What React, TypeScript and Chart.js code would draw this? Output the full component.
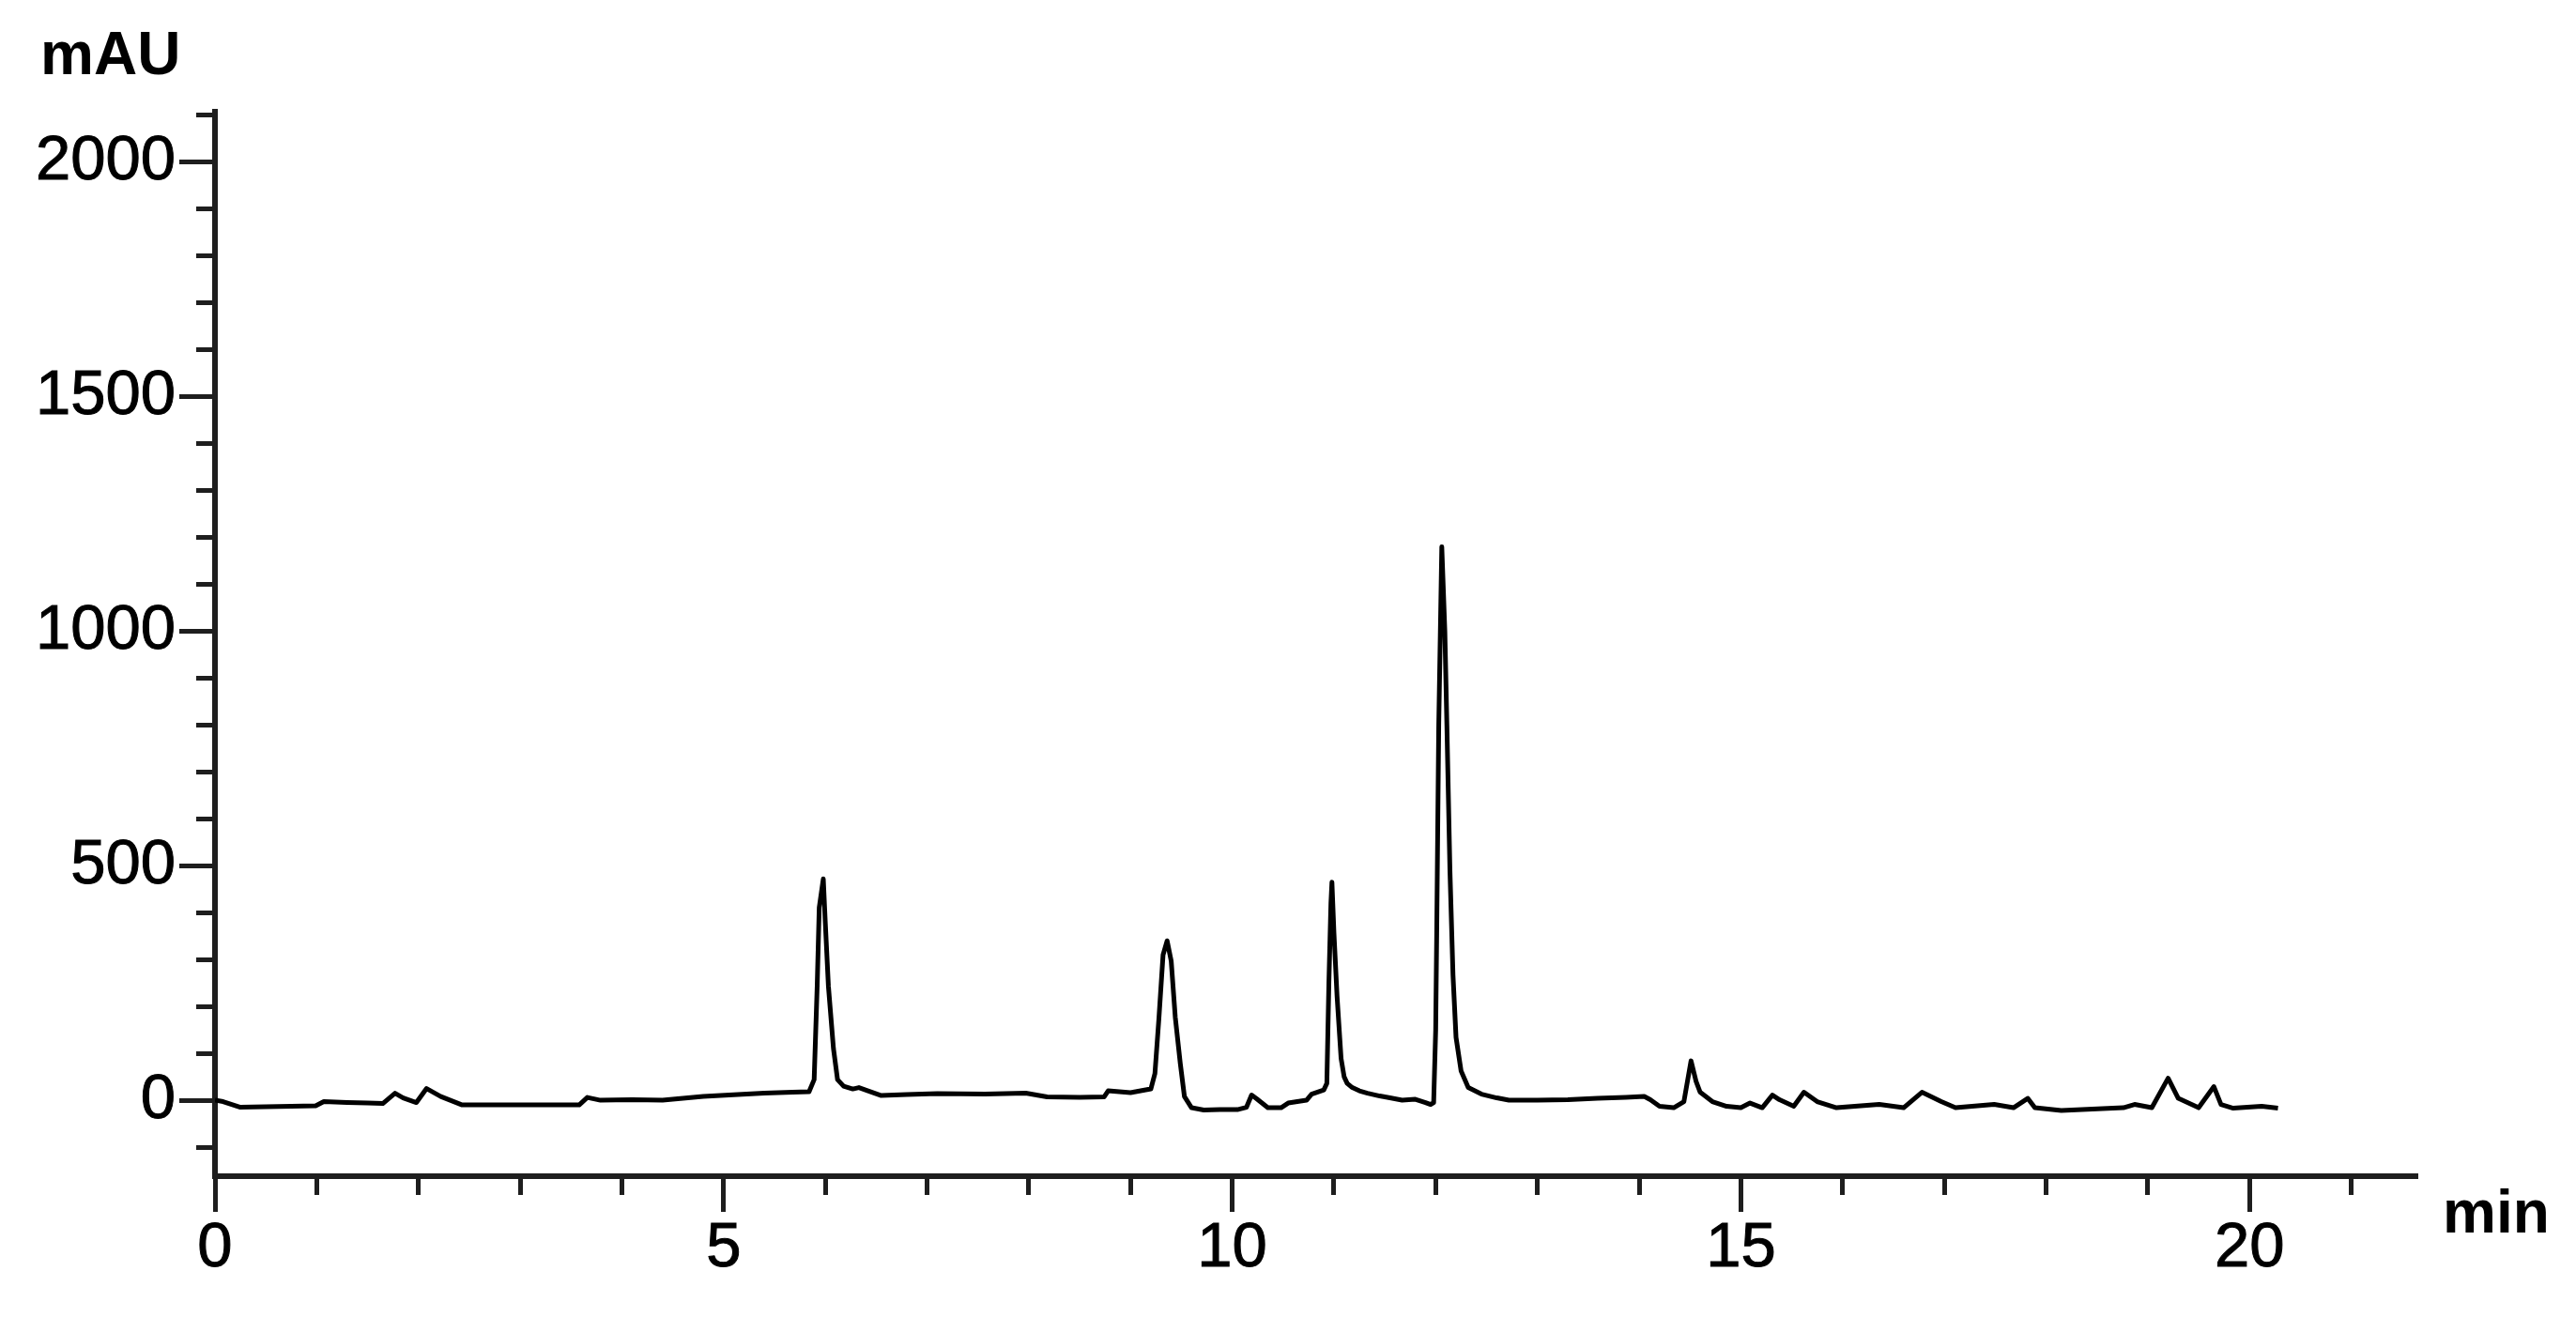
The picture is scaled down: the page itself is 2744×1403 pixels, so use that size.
import React, { useEffect, useRef } from "react";
import { Chart, registerables } from "chart.js";

Chart.register(...registerables);

// Retention time (min)
const timeMin: number[] = [
  0.0, 0.08, 0.25, 0.5, 0.75, 0.99, 1.07, 1.3, 1.5, 1.65, 1.77, 1.85, 1.98, 2.08, 2.22, 2.43,
  2.8, 3.17, 3.58, 3.66, 3.79, 4.1, 4.4, 4.8, 5.14, 5.4, 5.68, 5.84, 5.89, 5.92, 5.94, 5.98,
  6.0, 6.03, 6.08, 6.12, 6.18, 6.27, 6.33, 6.42, 6.55, 6.8, 7.1, 7.57, 7.97, 8.18, 8.5, 8.74,
  8.78, 9.0, 9.2, 9.24, 9.28, 9.32, 9.36, 9.4, 9.44, 9.49, 9.53, 9.6, 9.72, 9.88, 10.05, 10.14,
  10.19, 10.24, 10.35, 10.48, 10.55, 10.73, 10.78, 10.9, 10.93, 10.95, 10.97, 10.98, 11.0, 11.03,
  11.07, 11.1, 11.13, 11.18, 11.25, 11.33, 11.45, 11.55, 11.67, 11.8, 11.9, 11.95, 11.98, 12.0,
  12.01, 12.03, 12.06, 12.09, 12.11, 12.14, 12.17, 12.2, 12.25, 12.32, 12.45, 12.6, 12.72, 13.0,
  13.3, 13.59, 13.87, 14.05, 14.11, 14.2, 14.34, 14.44, 14.51, 14.56, 14.6, 14.72, 14.86, 15.0,
  15.09, 15.21, 15.31, 15.38, 15.52, 15.62, 15.75, 15.94, 16.36, 16.6, 16.78, 16.97, 17.11, 17.49,
  17.68, 17.82, 17.89, 18.15, 18.76, 18.87, 19.04, 19.2, 19.3, 19.5, 19.65, 19.72, 19.84, 20.12,
  20.28,
];

// Detector response (mAU)
const absorbance: number[] = [
  0, -3, -15, -14, -13, -12, -3, -5, -6, -7, 15, 5, -5, 25, 8, -10,
  -10, -10, -10, 6, 0, 1, 0, 8, 12, 15, 17, 18, 44, 244, 411, 472,
  377, 244, 110, 44, 30, 24, 27, 20, 10, 12, 14, 13, 15, 7, 6, 7,
  20, 16, 24, 57, 177, 310, 340, 297, 177, 77, 8, -16, -21, -20, -20, -15,
  11, 3, -16, -16, -6, 0, 13, 22, 36, 250, 420, 465, 356, 223,
  89, 50, 36, 27, 20, 15, 9, 5, 0, 2, -5, -9, -5, 150,
  356, 800, 1180, 1000, 800, 490, 267, 134, 62, 27, 13, 5, 0, 0,
  1, 4, 6, 8, 1, -13, -16, -3, 84, 40, 17, -3, -13, -16,
  -6, -16, 11, 1, -13, 17, -3, -16, -9, -16, 17, -3, -16, -9,
  -16, 4, -16, -22, -16, -9, -16, 47, 4, -16, 29, -9, -17, -13,
  -17,
];

const xRange = [0, 21.65];
const yRange = [-162, 2108];
const xMinorStep = 1;
const xLabelEvery = 5;
const yMinorStep = 100;
const yLabelEvery = 500;
const yAxisTitle = "mAU";
const xAxisTitle = "min";

const FONT = '"Liberation Sans", Arial, Helvetica, sans-serif';

export default function App() {
  const ref = useRef<HTMLCanvasElement>(null);

  useEffect(() => {
    document.body.style.margin = "0";
    const canvas = ref.current;
    if (!canvas) return;
    const ink = "#1e1e1e";

    const unitPlugin = {
      id: "unitLabels",
      afterDraw(chart: any) {
        const { ctx, chartArea } = chart;
        ctx.save();
        ctx.fillStyle = "#000";
        ctx.font = `bold 64px ${FONT}`;
        ctx.textAlign = "left";
        ctx.textBaseline = "alphabetic";
        ctx.fillText(yAxisTitle, 43, chartArea.top - 40);
        ctx.fillText(xAxisTitle, chartArea.right + 27, chartArea.bottom + 60);
        ctx.restore();
      },
    };

    const chart = new Chart(canvas, {
      type: "line",
      data: {
        datasets: [
          {
            data: timeMin.map((t, i) => ({ x: t, y: absorbance[i] })),
            borderColor: "#000",
            borderWidth: 5,
            pointRadius: 0,
            tension: 0,
            fill: false,
            borderJoinStyle: "round",
          },
        ],
      },
      options: {
        animation: false,
        responsive: false,
        devicePixelRatio: 1,
        layout: { padding: { top: 119, right: 169, left: 0, bottom: 0 } },
        plugins: { legend: { display: false }, tooltip: { enabled: false } },
        scales: {
          x: {
            type: "linear",
            min: xRange[0],
            max: xRange[1],
            afterFit: (s: any) => {
              s.height = 150;
            },
            border: { display: true, color: ink, width: 6 },
            grid: {
              drawOnChartArea: false,
              drawTicks: true,
              tickLength: 38,
              tickColor: ink,
              tickWidth: 5,
              tickBorderDash: (c: any) =>
                c.tick && Math.round(c.tick.value) % xLabelEvery !== 0 ? [17, 80] : [],
            },
            ticks: {
              stepSize: xMinorStep,
              includeBounds: false,
              autoSkip: false,
              maxRotation: 0,
              padding: -1,
              color: "#000",
              textStrokeColor: "#000",
              textStrokeWidth: 1,
              font: { family: FONT, size: 67 },
              callback: (v: any) => (Math.round(Number(v)) % xLabelEvery === 0 ? String(Math.round(Number(v))) : ""),
            },
          },
          y: {
            type: "linear",
            min: yRange[0],
            max: yRange[1],
            afterFit: (s: any) => {
              s.width = 229;
            },
            border: { display: true, color: ink, width: 6 },
            grid: {
              drawOnChartArea: false,
              drawTicks: true,
              tickLength: 38,
              tickColor: ink,
              tickWidth: 5,
              tickBorderDash: (c: any) =>
                c.tick && Math.round(c.tick.value) % yLabelEvery !== 0 ? [0, 18, 60, 0] : [],
            },
            ticks: {
              stepSize: yMinorStep,
              includeBounds: false,
              autoSkip: false,
              padding: 4,
              color: "#000",
              textStrokeColor: "#000",
              textStrokeWidth: 1,
              font: { family: FONT, size: 67 },
              callback: (v: any) => (Math.round(Number(v)) % yLabelEvery === 0 ? String(Math.round(Number(v))) : ""),
            },
          },
        },
      },
      plugins: [unitPlugin],
    } as any);

    return () => chart.destroy();
  }, []);

  return (
    <div style={{ position: "fixed", left: 0, top: 0, width: 2744, height: 1403, background: "#fff" }}>
      <canvas ref={ref} width={2744} height={1403} style={{ display: "block" }} />
    </div>
  );
}
